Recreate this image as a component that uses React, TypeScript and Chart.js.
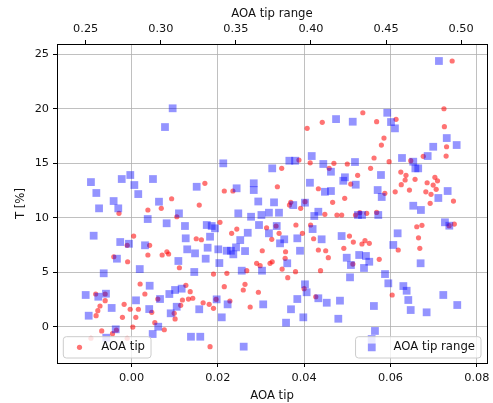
import React, { useEffect, useRef } from "react";
import { Chart, registerables } from "chart.js";

Chart.register(...registerables);

// ---- AOA tip (red circles, bottom axis) ----
const tipX = [
  -0.0029, 0.0038, 0.0069, 0.0005, -0.001, 0.0042, 0.0038, 0.0071, -0.0041, -0.0009,
  0.002, 0.0031, -0.0083, -0.0061, -0.0061, -0.0073, -0.0078, -0.0082, -0.0017, -0.0003,
  0.0016, 0.0047, -0.0021, 0.001, 0.0054, 0.0003, -0.0069, -0.0044, -0.0035, -0.0094, 0.0076,
  0.0093, 0.0157, 0.0105, 0.0205, 0.0244, 0.0232, 0.015, 0.0162, 0.0082,
  0.0086, 0.0111, 0.019, 0.0221, 0.0267, 0.0126, 0.0136, 0.0215, 0.0263, 0.0259,
  0.0294, 0.0061, 0.0118, 0.0132, 0.0142, 0.0166, 0.018, 0.019, 0.0196, 0.0228,
  0.0275, 0.0114, 0.0099, 0.0101, 0.0182, 0.017, 0.0215, 0.0235,
  0.0536, 0.0442, 0.0407, 0.0388, 0.0414, 0.0469, 0.05, 0.0458, 0.0348, 0.0524, 0.0338, 0.0433,
  0.0508, 0.0494, 0.0369, 0.0366, 0.0392, 0.0402, 0.0466, 0.0448, 0.0476, 0.0487,
  0.0519, 0.0313, 0.0335, 0.0381, 0.0415, 0.0342, 0.0325, 0.0396, 0.0422, 0.0505,
  0.0514, 0.0534, 0.0541, 0.0303, 0.0357, 0.0433, 0.045, 0.0492, 0.0356, 0.0456,
  0.029, 0.0298, 0.0321, 0.0326, 0.0513, 0.0349, 0.038, 0.0438, 0.0362, 0.04,
  0.0427, 0.0529, 0.0545,
  0.0743, 0.0568, 0.0613, 0.0724, 0.0725, 0.0585, 0.0579, 0.073, 0.0729, 0.0562,
  0.0597, 0.0647, 0.0676, 0.0554, 0.0624, 0.0636, 0.0634, 0.0657, 0.0625, 0.0703,
  0.0709, 0.0685, 0.0699, 0.0706, 0.0644, 0.0611, 0.0587, 0.0682, 0.0694, 0.0692,
  0.0746, 0.0568, 0.0661, 0.0673, 0.0748, 0.0736, 0.0665, 0.0668, 0.0551, 0.0618,
  0.0574, 0.0604, -0.001,
];
const tipT = [
  10.4, 10.71, 10.86, 8.32, 7.47, 7.47, 6.58, 6.58, 6.42, 5.96,
  3.92, 3.0, 3.0, 3.0, 2.39, 1.9, 1.47, 1.01, 2.05, 1.6,
  1.6, 1.32, 0.86, 0.86, 0.37, -0.03, -0.39, -0.64, -0.3, -1.06, -0.28,
  11.74, 11.16, 10.09, 9.58, 8.96, 8.57, 8.07, 7.98, 6.88,
  6.67, 5.41, 4.83, 4.9, 5.14, 3.8, 3.21, 3.67, 3.89, 3.37,
  3.16, 2.54, 2.45, 2.54, 2.61, 2.2, 2.05, 1.69, 2.51, 2.36,
  1.81, 1.96, 1.23, 0.71, -1.83, 13.16, 12.45, 12.45,
  19.63, 18.75, 18.2, 15.29, 15.04, 14.99, 14.93, 14.53, 14.53, 13.89, 12.84, 12.66,
  13.09, 11.78, 11.41, 11.16, 10.86, 11.47, 11.41, 10.31, 10.25, 10.25,
  10.25, 9.08, 9.24, 9.33, 9.33, 8.57, 8.02, 8.57, 8.07, 8.32,
  7.77, 7.59, 7.89, 6.97, 6.88, 7.04, 6.97, 7.19, 6.27, 6.33,
  5.82, 5.6, 5.82, 5.96, 5.75, 5.29, 5.05, 5.14, 4.5, 3.49,
  2.75, 10.46, 10.4,
  24.38, 18.81, 19.03, 20.0, 18.35, 17.31, 16.67, 16.51, 15.66, 15.48,
  15.14, 15.23, 15.63, 14.53, 14.19, 13.89, 13.46, 13.52, 13.03, 13.71,
  13.39, 13.21, 13.0, 12.61, 12.54, 12.38, 12.24, 12.38, 12.15, 11.32,
  11.53, 10.49, 9.17, 9.3, 9.42, 9.27, 8.16, 7.19, 7.65, 7.04,
  6.18, 2.91, -1.06,
];

// ---- AOA tip range (blue squares, top axis) ----
const rangeX = [
  0.3028, 0.3079, 0.2535, 0.274, 0.2797, 0.2824, 0.2571, 0.2948, 0.285, 0.2686,
  0.2717, 0.2589, 0.2988, 0.2913, 0.3039, 0.2553, 0.273, 0.2788, 0.2895, 0.2708,
  0.286, 0.262, 0.25, 0.2584, 0.2635, 0.2835, 0.2926, 0.2995, 0.2673, 0.252,
  0.2923, 0.27, 0.2637, 0.2983, 0.2946,
  0.3416, 0.3239, 0.3505, 0.3619, 0.3619, 0.3649, 0.3121, 0.3161, 0.3306, 0.3339,
  0.3361, 0.3166, 0.3328, 0.3176, 0.3228, 0.3312, 0.3383, 0.3299, 0.3117, 0.339,
  0.3439, 0.3467, 0.3483, 0.3501, 0.3529, 0.3561, 0.3579, 0.3516, 0.3601, 0.3654,
  0.367, 0.3223, 0.3539, 0.3674, 0.3057, 0.3095, 0.3139, 0.3106, 0.3066, 0.3256,
  0.3372, 0.3445, 0.3406, 0.3201, 0.3263, 0.3552, 0.3682,
  0.4167, 0.4278, 0.4005, 0.3856, 0.3894, 0.3742, 0.4082, 0.4133, 0.4293, 0.4226,
  0.4215, 0.4298, 0.3993, 0.4093, 0.4133, 0.3754, 0.396, 0.3882, 0.4049, 0.4022,
  0.372, 0.3787, 0.3772, 0.372, 0.3822, 0.3794, 0.3909, 0.4011, 0.4071, 0.4204,
  0.3927, 0.4313, 0.434, 0.4238, 0.4321, 0.3842, 0.4266, 0.426, 0.4353, 0.396,
  0.3971, 0.3909, 0.4049, 0.4105, 0.4193, 0.3867, 0.3949, 0.4182, 0.3834,
  0.4852, 0.4508, 0.4533, 0.4559, 0.4904, 0.497, 0.4814, 0.4777, 0.4606, 0.4681,
  0.4695, 0.4714, 0.4466, 0.4444, 0.491, 0.4471, 0.4848, 0.4681, 0.4732, 0.4448,
  0.4892, 0.4921, 0.4577, 0.4548, 0.4366, 0.4388, 0.473, 0.4493, 0.4515, 0.4615,
  0.4637, 0.4648, 0.4881, 0.4974, 0.4419, 0.4664, 0.477, 0.4426, 0.4404,
];
const rangeT = [
  18.32, 20.04, 13.27, 13.55, 13.92, 13.0, 12.27, 13.55, 12.17, 11.53,
  10.86, 10.86, 11.47, 9.88, 9.49, 8.35, 7.77, 7.61, 7.47, 6.24,
  5.29, 4.9, 2.91, 2.75, 3.03, 2.42, 3.76, 2.54, 1.72, 1.01,
  1.62, -0.24, -1.01, 0.0, -0.67,
  14.99, 12.84, 12.7, 13.16, 12.54, 11.49, 10.4, 9.24, 9.33, 9.24,
  9.03, 8.11, 8.26, 7.1, 6.73, 7.25, 7.1, 6.24, 6.03, 5.84,
  6.97, 6.97, 6.64, 7.28, 7.95, 6.94, 8.62, 10.4, 10.09, 9.33,
  10.25, 5.02, 5.14, 5.14, 3.0, 3.37, 3.49, 1.83, 1.23, 1.6,
  2.51, 2.05, 0.86, -0.92, -0.92, -1.83, 2.05,
  19.05, 18.81, 15.66, 15.23, 15.23, 14.53, 14.93, 14.22, 15.11, 13.71,
  13.39, 13.03, 13.21, 12.38, 12.45, 11.41, 11.38, 11.16, 10.55, 10.16,
  10.46, 10.46, 9.24, 8.57, 8.02, 7.65, 8.11, 8.96, 8.02, 8.32,
  6.97, 10.25, 10.25, 6.33, 6.58, 5.82, 5.66, 4.53, 5.39, 3.89,
  3.16, 2.54, 2.61, 2.2, 2.39, 1.6, 0.86, 0.73, 0.37,
  24.38, 19.63, 18.78, 18.2, 17.31, 16.67, 16.51, 15.66, 15.48, 15.14,
  14.53, 14.53, 13.92, 12.54, 12.45, 11.9, 11.81, 11.1, 10.71, 10.25,
  9.58, 9.27, 8.57, 7.5, 6.49, 5.96, 5.82, 4.83, 3.98, 3.73,
  3.3, 2.45, 2.91, 1.99, 1.9, 1.53, 1.32, -0.39, -1.13,
];

// ---- ticks / labels ----
const tipTicks = [0, 0.02, 0.04, 0.06, 0.08];
const tipTickLabels = ["0.00", "0.02", "0.04", "0.06", "0.08"];
const rangeTicks = [0.25, 0.3, 0.35, 0.4, 0.45, 0.5];
const rangeTickLabels = ["0.25", "0.30", "0.35", "0.40", "0.45", "0.50"];
const tTicks = [0, 5, 10, 15, 20, 25];
const tTickLabels = ["0", "5", "10", "15", "20", "25"];

const tipLabel = "AOA tip";
const rangeLabel = "AOA tip range";
const yLabel = "T [%]";

const tipLimits = [-0.01726, 0.08237];
const rangeLimits = [0.2309, 0.5172];
const tLimits = [-3.33, 25.94];

const FONT = "'DejaVu Sans', 'Liberation Sans', sans-serif";
const RED = "rgba(255,0,0,0.55)";
const BLUE = "rgba(0,0,255,0.42)";
const GRID = "#b0b0b0";
const TEXT = "#111";

function roundRectPath(ctx: CanvasRenderingContext2D, x: number, y: number, w: number, h: number, r: number) {
  ctx.beginPath();
  ctx.moveTo(x + r, y);
  ctx.lineTo(x + w - r, y);
  ctx.arcTo(x + w, y, x + w, y + r, r);
  ctx.lineTo(x + w, y + h - r);
  ctx.arcTo(x + w, y + h, x + w - r, y + h, r);
  ctx.lineTo(x + r, y + h);
  ctx.arcTo(x, y + h, x, y + h - r, r);
  ctx.lineTo(x, y + r);
  ctx.arcTo(x, y, x + r, y, r);
  ctx.closePath();
}

const framePlugin = {
  id: "frameAndLegends",
  afterDraw(chart: any) {
    const ctx: CanvasRenderingContext2D = chart.ctx;
    const a = chart.chartArea;
    ctx.save();
    // right spine
    const rx = Math.round(a.right) + 0.5;
    ctx.strokeStyle = "#000";
    ctx.lineWidth = 1;
    ctx.beginPath();
    ctx.moveTo(rx, Math.round(a.top));
    ctx.lineTo(rx, Math.round(a.bottom) + 1);
    ctx.stroke();

    // legends
    ctx.font = `11.7px ${FONT}`;
    const h = 21.3;
    const y0 = a.bottom - 26.3;
    const cy = y0 + h / 2;
    const draw = (x0: number, w: number, label: string, kind: string) => {
      roundRectPath(ctx, x0, y0, w, h, 3);
      ctx.fillStyle = "rgba(255,255,255,0.8)";
      ctx.fill();
      ctx.strokeStyle = "#cccccc";
      ctx.lineWidth = 1;
      ctx.stroke();
      const mx = x0 + 16.2;
      if (kind === "circle") {
        ctx.fillStyle = RED;
        ctx.beginPath();
        ctx.arc(mx, cy, 2.6, 0, Math.PI * 2);
        ctx.fill();
      } else {
        ctx.fillStyle = BLUE;
        ctx.fillRect(mx - 3.9, cy - 3.9, 7.8, 7.8);
      }
      ctx.fillStyle = TEXT;
      ctx.textAlign = "left";
      ctx.textBaseline = "middle";
      ctx.fillText(label, x0 + 38, cy - 0.3);
    };
    const w1 = 38 + ctx.measureText(tipLabel).width + 6;
    draw(a.left + 6.3, w1, tipLabel, "circle");
    const w2 = 38 + ctx.measureText(rangeLabel).width + 6;
    draw(a.right - 6 - w2, w2, rangeLabel, "rect");
    ctx.restore();
  },
};

export default function App() {
  const ref = useRef<HTMLCanvasElement | null>(null);

  useEffect(() => {
    if (!ref.current) return;
    const tipData = tipX.map((x, i) => ({ x, y: tipT[i] }));
    const rangeData = rangeX.map((x, i) => ({ x, y: rangeT[i] }));
    const tickFont = { family: FONT, size: 11.3 };
    const titleFont = { family: FONT, size: 11.7 };

    const chart = new Chart(ref.current, {
      type: "scatter",
      data: {
        datasets: [
          {
            label: tipLabel,
            data: tipData,
            xAxisID: "x",
            yAxisID: "y",
            pointStyle: "circle",
            pointRadius: 2.6,
            pointBorderWidth: 0,
            backgroundColor: RED,
            borderColor: RED,
            order: 2,
          },
          {
            label: rangeLabel,
            data: rangeData,
            xAxisID: "x2",
            yAxisID: "y",
            pointStyle: "rect",
            pointRadius: 5.5,
            pointBorderWidth: 0,
            backgroundColor: BLUE,
            borderColor: BLUE,
            order: 1,
          },
        ],
      },
      options: {
        responsive: false,
        animation: false,
        devicePixelRatio: 1,
        layout: { padding: { left: 0, right: 6, top: 0, bottom: 0 } },
        plugins: { legend: { display: false }, tooltip: { enabled: false } },
        events: [],
        scales: {
          x: {
            type: "linear",
            position: "bottom",
            min: tipLimits[0],
            max: tipLimits[1],
            afterBuildTicks: (s: any) => {
              s.ticks = tipTicks.map((v) => ({ value: v }));
            },
            afterFit: (s: any) => {
              s.height = 40;
              s.paddingLeft = 0;
              s.paddingRight = 0;
            },
            ticks: {
              callback: (_v: any, i: number) => tipTickLabels[i],
              font: tickFont,
              color: TEXT,
              padding: 4,
              maxRotation: 0,
              autoSkip: false,
            },
            grid: { color: GRID, lineWidth: 0.8, tickColor: "#000", tickLength: 4, tickWidth: 1 },
            border: { display: true, color: "#000", width: 1 },
            title: { display: true, text: tipLabel, font: titleFont, color: TEXT, padding: { top: 0, bottom: 0.5 } },
          },
          x2: {
            type: "linear",
            position: "top",
            min: rangeLimits[0],
            max: rangeLimits[1],
            afterBuildTicks: (s: any) => {
              s.ticks = rangeTicks.map((v) => ({ value: v }));
            },
            afterFit: (s: any) => {
              s.height = 44;
              s.paddingLeft = 0;
              s.paddingRight = 0;
            },
            ticks: {
              callback: (_v: any, i: number) => rangeTickLabels[i],
              font: tickFont,
              color: TEXT,
              padding: 4,
              maxRotation: 0,
              autoSkip: false,
            },
            grid: { drawOnChartArea: false, tickColor: "#000", tickLength: 4, tickWidth: 1 },
            border: { display: true, color: "#000", width: 1 },
            title: { display: true, text: rangeLabel, font: titleFont, color: TEXT, padding: { top: 7, bottom: 0 } },
          },
          y: {
            type: "linear",
            position: "left",
            min: tLimits[0],
            max: tLimits[1],
            afterBuildTicks: (s: any) => {
              s.ticks = tTicks.map((v) => ({ value: v }));
            },
            afterFit: (s: any) => {
              s.width = 57;
              s.paddingTop = 0;
              s.paddingBottom = 0;
            },
            ticks: {
              callback: (_v: any, i: number) => tTickLabels[i],
              font: tickFont,
              color: TEXT,
              padding: 4,
              autoSkip: false,
            },
            grid: { color: GRID, lineWidth: 0.8, tickColor: "#000", tickLength: 4, tickWidth: 1 },
            border: { display: true, color: "#000", width: 1 },
            title: { display: true, text: yLabel, font: titleFont, color: TEXT, padding: { top: 13.7, bottom: 0 } },
          },
        },
      } as any,
      plugins: [framePlugin],
    });
    return () => chart.destroy();
  }, []);

  return (
    <div style={{ position: "fixed", left: 0, top: 0, width: 493, height: 403, background: "#fff" }}>
      <canvas ref={ref} width={493} height={403} style={{ display: "block" }} />
    </div>
  );
}
